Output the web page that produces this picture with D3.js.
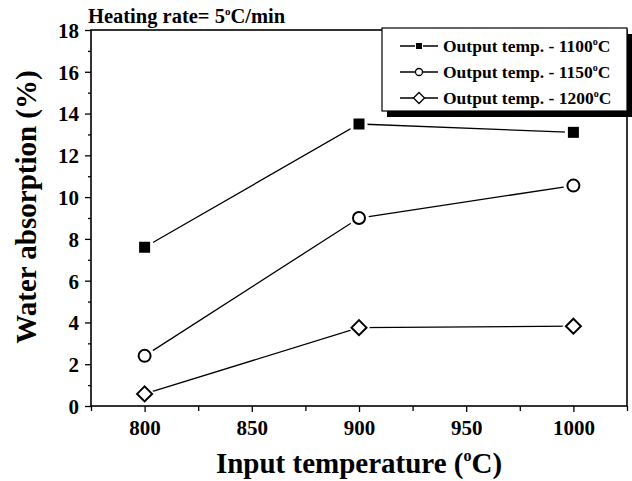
<!DOCTYPE html>
<html><head><meta charset="utf-8">
<script src="https://cdn.jsdelivr.net/npm/d3@7"></script>
<style>
body{margin:0;background:#fff;}
svg{display:block;}
svg text{font-family:"Liberation Serif","Times New Roman",serif !important;font-weight:bold;}
</style></head>
<body>
<svg id="c" width="632" height="481"></svg>
<script>
const inputTemps = [800, 900, 1000];
const series1100 = [7.6, 13.5, 13.1];
const series1150 = [2.4, 9.0, 10.55];
const series1200 = [0.58, 3.75, 3.82];
const seriesNames = ["Output temp. - 1100", "Output temp. - 1150", "Output temp. - 1200"];
const seriesShapes = ["square", "circle", "diamond"];
const xTicks = [800, 850, 900, 950, 1000];
const yTicks = [0, 2, 4, 6, 8, 10, 12, 14, 16, 18];

const svg = d3.select("#c");
const L = 91, R = 627, T = 30, B = 406;
const x = d3.scaleLinear().domain([775, 1025]).range([L, R]);
const y = d3.scaleLinear().domain([0, 18]).range([B, T]);

// axes
const xAxis = svg.append("g").attr("transform", `translate(0,${B})`)
  .call(d3.axisBottom(x).tickValues(xTicks).tickSize(6).tickPadding(8).tickFormat(d3.format("d")));
const xMinor = svg.append("g").attr("transform", `translate(0,${B})`)
  .call(d3.axisBottom(x).tickValues([775, 825, 875, 925, 975, 1025]).tickSize(5).tickFormat(""));
const yAxis = svg.append("g").attr("transform", `translate(${L},0)`)
  .call(d3.axisLeft(y).tickValues(yTicks).tickSize(6).tickPadding(6).tickFormat(d3.format("d")));
const yMinor = svg.append("g").attr("transform", `translate(${L},0)`)
  .call(d3.axisLeft(y).tickValues(d3.range(1, 18, 2)).tickSize(3).tickFormat(""));
[xAxis, xMinor, yAxis, yMinor].forEach(g => {
  g.attr("font-family", "Liberation Serif").attr("font-size", 21);
  g.select(".domain").remove();
  g.selectAll("line").attr("stroke", "#000").attr("stroke-width", 1.3);
  g.selectAll("text").attr("fill", "#000");
});
yAxis.selectAll("text").attr("dy", "0.35em");

// frame
svg.append("rect").attr("x", L).attr("y", T).attr("width", R - L).attr("height", B - T)
  .attr("fill", "none").attr("stroke", "#000").attr("stroke-width", 1.6);

// series
const allSeries = [series1100, series1150, series1200];
const line = d3.line().x((d, i) => x(inputTemps[i])).y(d => y(d));
function marker(g, shape, cx, cy, bg) {
  if (shape === "square") {
    const s = bg ? 17 : 11;
    g.append("rect").attr("x", cx - s / 2).attr("y", cy - s / 2).attr("width", s).attr("height", s)
      .attr("fill", bg ? "#fff" : "#000");
  } else if (shape === "circle") {
    g.append("circle").attr("cx", cx).attr("cy", cy).attr("r", bg ? 10 : 6)
      .attr("fill", "#fff").attr("stroke", bg ? "none" : "#000").attr("stroke-width", 2);
  } else {
    const r = bg ? 11 : 7.5;
    g.append("path").attr("d", `M${cx},${cy - r}L${cx + r},${cy}L${cx},${cy + r}L${cx - r},${cy}Z`)
      .attr("fill", "#fff").attr("stroke", bg ? "none" : "#000").attr("stroke-width", 2);
  }
}
allSeries.forEach((vals, si) => {
  const g = svg.append("g");
  g.append("path").datum(vals).attr("d", line).attr("fill", "none").attr("stroke", "#000").attr("stroke-width", 1.3);
  vals.forEach((v, i) => marker(g, seriesShapes[si], x(inputTemps[i]), y(v), true));
  vals.forEach((v, i) => marker(g, seriesShapes[si], x(inputTemps[i]), y(v), false));
});

// legend
const lg = svg.append("g");
lg.append("rect").attr("x", 387).attr("y", 34).attr("width", 250).attr("height", 83).attr("fill", "#000");
lg.append("rect").attr("x", 382).attr("y", 28).attr("width", 245).attr("height", 83)
  .attr("fill", "#fff").attr("stroke", "#000").attr("stroke-width", 1.2);
seriesNames.forEach((name, i) => {
  const cy = 46 + i * 26;
  lg.append("line").attr("x1", 400).attr("x2", 438).attr("y1", cy).attr("y2", cy)
    .attr("stroke", "#000").attr("stroke-width", 1.3);
  const mg = lg.append("g");
  if (seriesShapes[i] === "square") {
    mg.append("rect").attr("x", 415).attr("y", cy - 4).attr("width", 8).attr("height", 8).attr("fill", "#fff");
    mg.append("rect").attr("x", 416).attr("y", cy - 3).attr("width", 6).attr("height", 6).attr("fill", "#000");
  } else if (seriesShapes[i] === "circle") {
    mg.append("circle").attr("cx", 419).attr("cy", cy).attr("r", 3.5).attr("fill", "#fff").attr("stroke", "#000").attr("stroke-width", 1.3);
  } else {
    mg.append("path").attr("d", `M419,${cy - 5.5}L424.5,${cy}L419,${cy + 5.5}L413.5,${cy}Z`)
      .attr("fill", "#fff").attr("stroke", "#000").attr("stroke-width", 1.3);
  }
  const t = lg.append("text").attr("x", 443).attr("y", cy + 6).style("font-size", "17.5px");
  t.append("tspan").text(name);
  t.append("tspan").attr("dy", -7).style("font-size", "10px").text("o");
  t.append("tspan").attr("dy", 7).text("C");
});

// title
const tt = svg.append("text").attr("x", 88).attr("y", 23).style("font-size", "20.5px");
tt.append("tspan").text("Heating rate= 5");
tt.append("tspan").attr("dy", -8).style("font-size", "11px").text("o");
tt.append("tspan").attr("dy", 8).text("C/min");

// axis titles
const xt = svg.append("text").attr("x", (L + R) / 2).attr("y", 473).attr("text-anchor", "middle").style("font-size", "29px");
xt.append("tspan").text("Input temperature (");
xt.append("tspan").attr("dy", -12).style("font-size", "16px").text("o");
xt.append("tspan").attr("dy", 12).text("C)");

svg.append("text").attr("transform", "translate(36,207) rotate(-90)").attr("text-anchor", "middle")
  .style("font-size", "29px").text("Water absorption (%)");
</script>
</body></html>
